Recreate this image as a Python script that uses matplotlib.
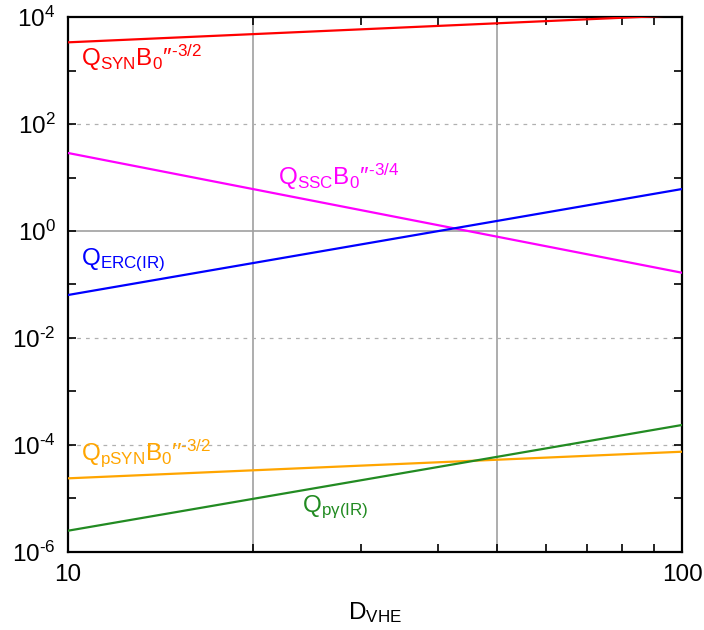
import matplotlib
matplotlib.use("Agg")
import matplotlib.pyplot as plt
import numpy as np

plt.rcParams['font.family'] = ['Liberation Sans', 'DejaVu Sans']
plt.rcParams['mathtext.fontset'] = 'custom'
plt.rcParams['mathtext.rm'] = 'Liberation Sans'
plt.rcParams['mathtext.it'] = 'Liberation Sans'
plt.rcParams['mathtext.sf'] = 'Liberation Sans'

# Data: straight lines in log-log space
D_vhe = [10, 100]
Q_syn = [3400, 1.1e4]
Q_ssc = [28.9, 0.166]
Q_erc = [0.0636, 6.12]
Q_psyn = [2.36e-5, 7.43e-5]
Q_pgamma = [2.47e-6, 2.35e-4]

x_ticks = [10, 100]
y_ticks = [1e-6, 1e-4, 1e-2, 1e0, 1e2, 1e4]
y_ticklabels = [r'$\mathregular{10^{\text{-}6}}$', r'$\mathregular{10^{\text{-}4}}$', r'$\mathregular{10^{\text{-}2}}$',
                r'$\mathregular{10^{0}}$', r'$\mathregular{10^{2}}$', r'$\mathregular{10^{4}}$']

fig = plt.figure(figsize=(7.04, 6.30), dpi=100)
ax = fig.add_axes([68/704, 1-551.7/630, (682-68)/704, (551.7-17.3)/630])
ax.set_xscale('log')
ax.set_yscale('log')
ax.set_xlim(10, 100)
ax.set_ylim(1e-6, 1e4)

# grid
for xv in [20, 50]:
    ax.axvline(xv, color='#a0a0a0', lw=1.2, zorder=1)
for yv in [1e2, 1e-2, 1e-4]:
    ax.axhline(yv, color='#b0b0b0', lw=0.9, ls=(0, (3, 4)), zorder=1)
ax.axhline(1.0, color='#a0a0a0', lw=1.2, zorder=1)

lw = 1.6
ax.plot(D_vhe, Q_syn, color='#ff0000', lw=lw, zorder=3)
ax.plot(D_vhe, Q_ssc, color='#ff00ff', lw=lw, zorder=3)
ax.plot(D_vhe, Q_erc, color='#0000ff', lw=lw, zorder=3)
ax.plot(D_vhe, Q_psyn, color='#ffa500', lw=lw, zorder=3)
ax.plot(D_vhe, Q_pgamma, color='#228b22', lw=lw, zorder=3)

fs = 17.5
def lab(px, py, s, c):
    ax.text((px-68)/614, (551.7-py)/534.4, s, color=c, fontsize=fs,
            transform=ax.transAxes, ha='left', va='baseline', zorder=4)

lab(81, 66, r"$\mathregular{Q_{SYN}B_0{\prime\prime}^{\text{-}3/2}}$", '#ff0000')
lab(278, 185, r"$\mathregular{Q_{SSC}B_0{\prime\prime}^{\text{-}3/4}}$", '#ff00ff')
lab(81, 265, r"$\mathregular{Q_{ERC(IR)}}$", '#0000ff')
lab(81, 460, r"$\mathregular{Q_{pSYN}B_0{\prime\prime}^{\text{-}3/2}}$", '#ffa500')
lab(302, 511.7, r"$\mathregular{Q_{p\gamma(IR)}}$", '#228b22')

ax.set_xticks(x_ticks)
ax.set_xticklabels(['10', '100'], fontsize=fs)
ax.set_xticks([20, 30, 40, 50, 60, 70, 80, 90], minor=True)
ax.set_xticklabels([], minor=True)
ax.set_yticks(y_ticks)
ax.set_yticklabels(y_ticklabels, fontsize=fs)
ax.set_yticks([1e-5, 1e-3, 1e-1, 1e1, 1e3], minor=True)
ax.set_yticklabels([], minor=True)
ax.tick_params(which='both', direction='in', top=True, right=True, length=6, width=1.2, pad=9)
for s in ax.spines.values():
    s.set_linewidth(1.6)

ax.set_xlabel(r"$\mathregular{D_{VHE}}$", fontsize=fs, labelpad=10)

fig.savefig('out.png', dpi=100)
